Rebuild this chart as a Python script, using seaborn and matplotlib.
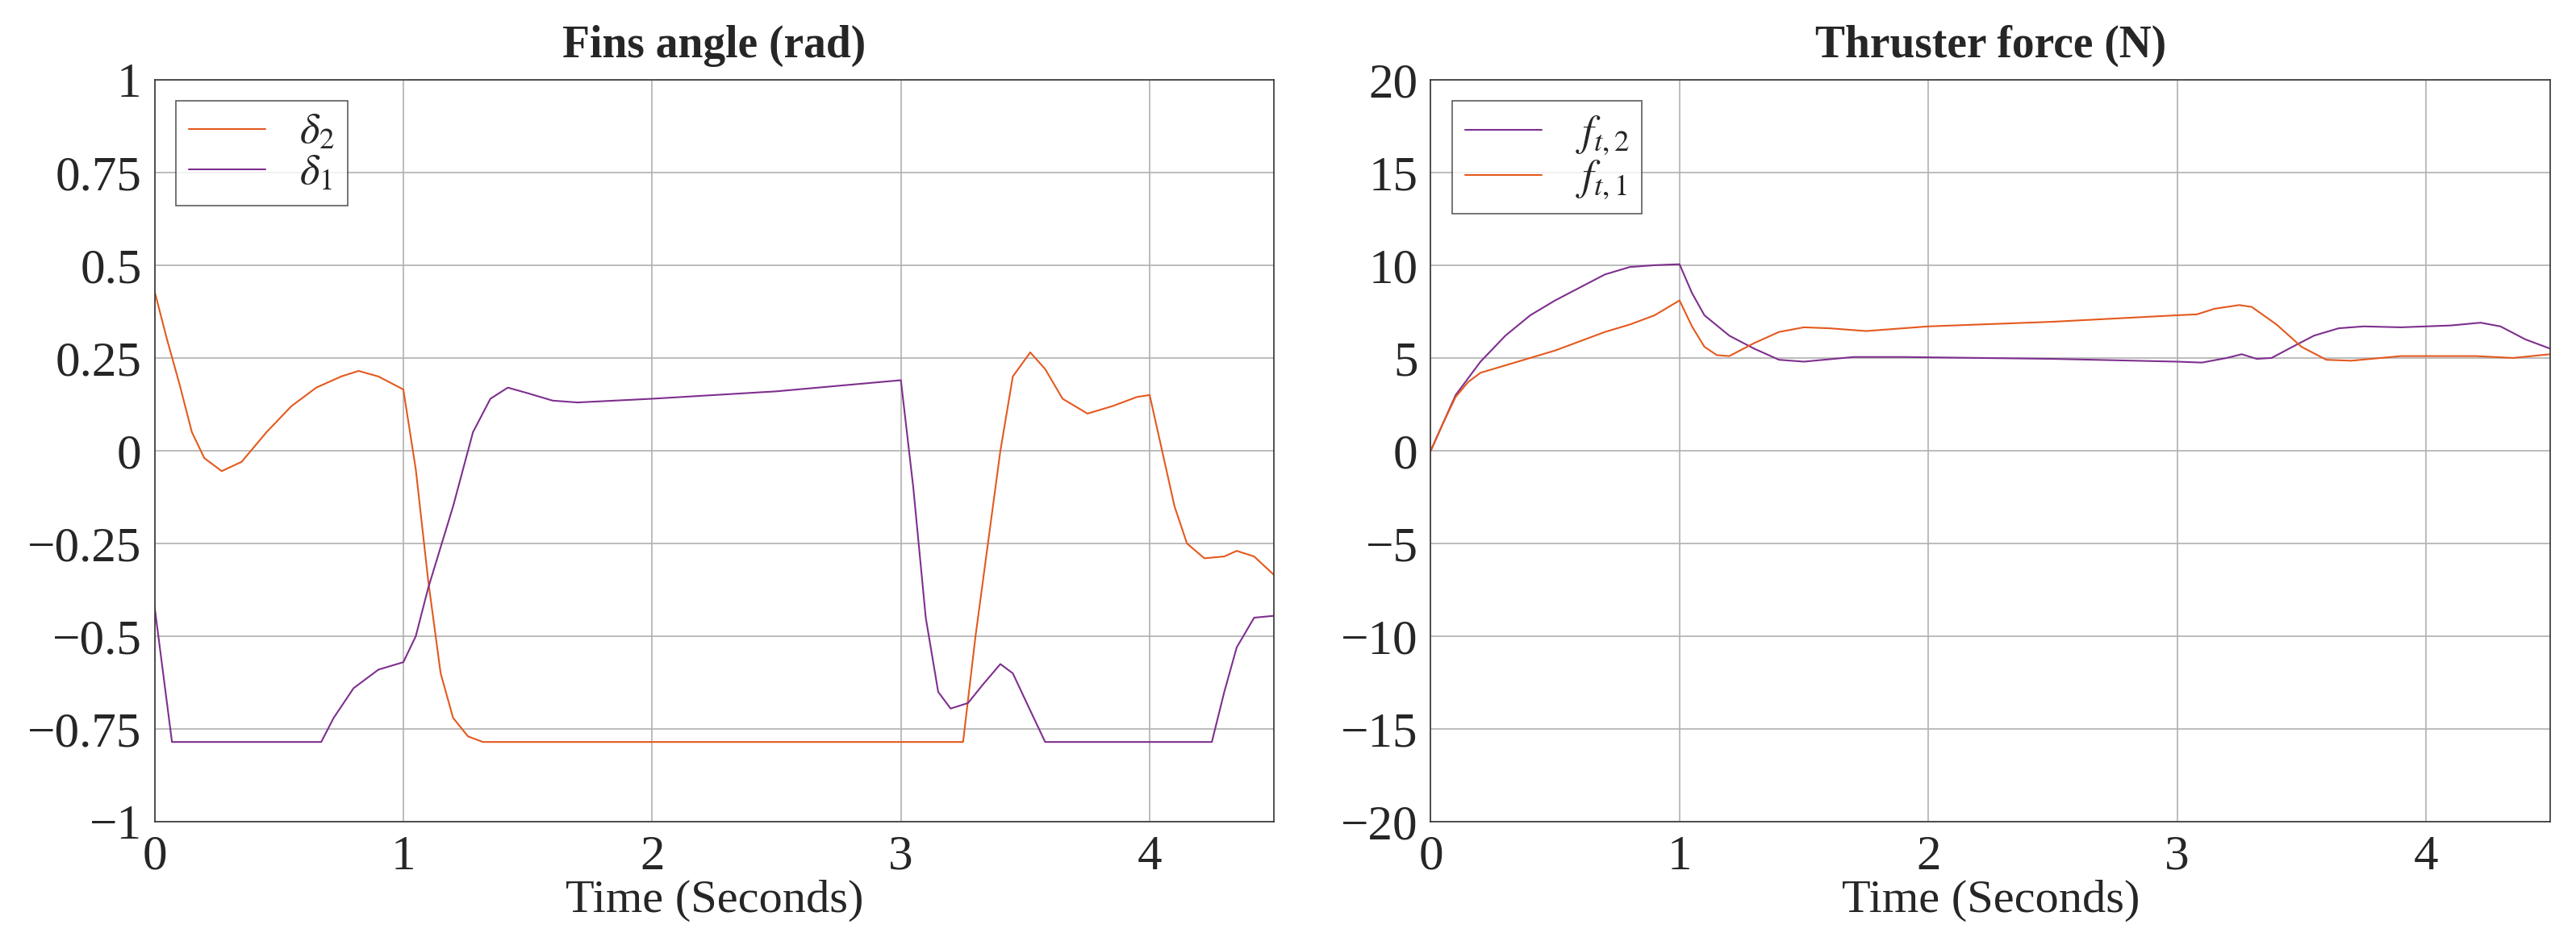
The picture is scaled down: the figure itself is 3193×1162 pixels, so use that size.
import pandas as pd
import matplotlib.pyplot as plt
import seaborn as sns

# Fins angle, delta_2 (orange)
d2_t = [0, 0.05, 0.1, 0.15, 0.2, 0.27, 0.35, 0.45, 0.55, 0.65, 0.75, 0.82, 0.9, 1.0,
        1.05, 1.1, 1.15, 1.2, 1.26, 1.32, 3.25, 3.3, 3.4, 3.45, 3.52, 3.58, 3.65, 3.75,
        3.85, 3.95, 4.0, 4.05, 4.1, 4.15, 4.22, 4.3, 4.35, 4.42, 4.5]
d2_v = [0.43, 0.3, 0.18, 0.05, -0.02, -0.055, -0.03, 0.05, 0.12, 0.17, 0.2, 0.215, 0.2, 0.165,
        -0.05, -0.35, -0.6, -0.72, -0.77, -0.785, -0.785, -0.5, 0.0, 0.2, 0.265, 0.22, 0.14, 0.1,
        0.12, 0.145, 0.15, 0.0, -0.15, -0.25, -0.29, -0.285, -0.27, -0.285, -0.335]

# Fins angle, delta_1 (purple)
d1_t = [0, 0.07, 0.67, 0.72, 0.8, 0.9, 1.0, 1.05, 1.1, 1.2, 1.28, 1.35, 1.42, 1.5, 1.6,
        1.7, 2.0, 2.5, 3.0, 3.05, 3.1, 3.15, 3.2, 3.27, 3.33, 3.4, 3.45, 3.52, 3.58, 4.25,
        4.3, 4.35, 4.42, 4.5]
d1_v = [-0.42, -0.785, -0.785, -0.72, -0.64, -0.59, -0.57, -0.5, -0.37, -0.15, 0.05, 0.14,
        0.17, 0.155, 0.135, 0.13, 0.14, 0.16, 0.19, -0.1, -0.45, -0.65, -0.695, -0.68, -0.63,
        -0.575, -0.6, -0.7, -0.785, -0.785, -0.65, -0.53, -0.45, -0.445]

# Thruster force f_t,2 (purple)
f2_t = [0, 0.1, 0.2, 0.3, 0.4, 0.5, 0.6, 0.7, 0.8, 0.9, 1.0, 1.05, 1.1, 1.2, 1.3, 1.4,
        1.5, 1.7, 1.9, 2.5, 3.0, 3.1, 3.2, 3.26, 3.32, 3.38, 3.45, 3.55, 3.65, 3.75, 3.9,
        4.0, 4.1, 4.22, 4.3, 4.4, 4.5]
f2_v = [0, 3, 4.8, 6.2, 7.3, 8.1, 8.8, 9.5, 9.9, 10.0, 10.05, 8.5, 7.3, 6.2, 5.5, 4.9,
        4.8, 5.05, 5.05, 4.95, 4.8, 4.75, 5.0, 5.2, 4.95, 5.0, 5.5, 6.2, 6.6, 6.7, 6.65,
        6.7, 6.75, 6.9, 6.7, 6.0, 5.5]

# Thruster force f_t,1 (orange)
f1_t = [0, 0.05, 0.1, 0.15, 0.2, 0.3, 0.4, 0.5, 0.6, 0.7, 0.8, 0.9, 1.0, 1.05, 1.1, 1.15,
        1.2, 1.3, 1.4, 1.5, 1.6, 1.75, 2.0, 2.5, 3.0, 3.08, 3.15, 3.25, 3.3, 3.4, 3.5, 3.6,
        3.7, 3.9, 4.0, 4.2, 4.35, 4.5]
f1_v = [0, 1.5, 2.9, 3.7, 4.2, 4.6, 5.0, 5.4, 5.9, 6.4, 6.8, 7.3, 8.1, 6.7, 5.6, 5.15,
        5.1, 5.8, 6.4, 6.65, 6.6, 6.45, 6.7, 6.95, 7.3, 7.35, 7.65, 7.85, 7.75, 6.8, 5.6, 4.9,
        4.85, 5.1, 5.1, 5.1, 5.0, 5.2]

orange = '#E4591E'
purple = '#7E2F8E'

sns.set_style('whitegrid')
plt.rcParams['font.family'] = ['Liberation Serif', 'DejaVu Serif']
plt.rcParams['mathtext.fontset'] = 'stix'

fig, axes = plt.subplots(1, 2, figsize=(31.93, 11.62), dpi=100)
fig.subplots_adjust(left=0.06, right=0.99, top=0.915, bottom=0.123, wspace=0.14)

ax = axes[0]
sns.lineplot(x=d2_t, y=d2_v, ax=ax, color=orange, lw=1.5, label=r'$\delta_2$')
sns.lineplot(x=d1_t, y=d1_v, ax=ax, color=purple, lw=1.5, label=r'$\delta_1$')
ax.set_ylim(-1, 1)
ax.set_yticks([-1, -0.75, -0.5, -0.25, 0, 0.25, 0.5, 0.75, 1])
ax.set_yticklabels(['−1', '−0.75', '−0.5', '−0.25', '0', '0.25', '0.5', '0.75', '1'])
ax.set_title('Fins angle (rad)', fontsize=40, fontweight='bold', pad=20)

ax = axes[1]
sns.lineplot(x=f2_t, y=f2_v, ax=ax, color=purple, lw=1.5, label=r'$f_{t,2}$')
sns.lineplot(x=f1_t, y=f1_v, ax=ax, color=orange, lw=1.5, label=r'$f_{t,1}$')
ax.set_ylim(-20, 20)
ax.set_yticks(range(-20, 25, 5))
ax.set_yticklabels([str(v).replace('-', '−') for v in range(-20, 25, 5)])
ax.set_title('Thruster force (N)', fontsize=40, fontweight='bold', pad=20)

for ax in axes:
    ax.set_xlim(0, 4.5)
    ax.set_xticks([0, 1, 2, 3, 4])
    ax.set_xlabel('Time (Seconds)', fontsize=42, labelpad=0)
    ax.tick_params(labelsize=44, pad=8)
    ax.grid(color='#b0b0b0', lw=1.2)
    for s in ax.spines.values():
        s.set_color('#333333')
        s.set_linewidth(1.2)
    leg = ax.legend(loc='upper left', fontsize=38, frameon=True, fancybox=False,
                    handlelength=1.8, borderpad=0.3, labelspacing=0.05)
    leg.get_frame().set_edgecolor('#333333')
    leg.get_frame().set_linewidth(1.2)

fig.savefig('out.png', dpi=100)
